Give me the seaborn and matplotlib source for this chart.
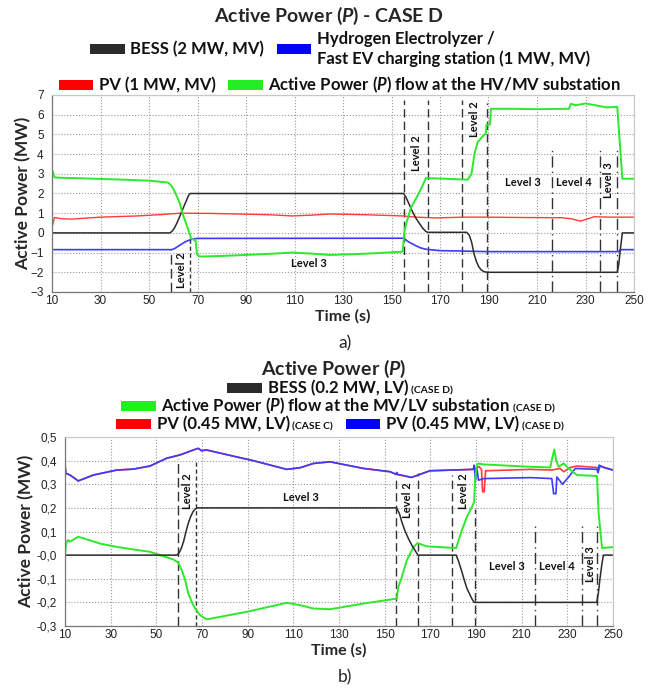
import matplotlib
matplotlib.use('Agg')
import matplotlib.pyplot as plt
import seaborn as sns
from matplotlib.patches import Rectangle
from matplotlib.offsetbox import HPacker, TextArea, DrawingArea, AnchoredOffsetbox
from matplotlib.ticker import MultipleLocator

# ---------- a) CASE D, MV network (MW) ----------
t_bess_a = [10, 58.6, 59.5, 60.5, 61.5, 62.5, 63.5, 64.5, 65.5, 66.3, 67, 155, 156, 157.4, 158.5, 160,
            161.5, 163, 164.2, 165, 181, 182, 183, 184, 185, 186, 187, 188, 189, 190, 243.1, 243.7,
            244.4, 245.2, 250]
p_bess_a = [0, 0, 0.08, 0.25, 0.5, 0.78, 1.08, 1.38, 1.66, 1.9, 2.0, 2.0, 1.8, 1.42, 1.12, 0.76,
            0.48, 0.22, 0.07, 0.03, 0.03, -0.1, -0.45, -1.05, -1.45, -1.72, -1.88, -1.96, -1.99, -2.0,
            -2.0, -1.6, -0.8, 0.0, 0.0]

t_h2_a = [10, 59.3, 60.5, 63, 65, 67.4, 70, 155, 157, 160, 162, 164.2, 170, 190, 243.5, 244.8, 250]
p_h2_a = [-0.85, -0.85, -0.8, -0.6, -0.45, -0.33, -0.28, -0.27, -0.45, -0.65, -0.76, -0.83, -0.9,
          -0.95, -0.95, -0.85, -0.85]

t_pv_a = [10, 10.3, 11, 14, 18, 30, 45, 55, 62.8, 75, 86, 100, 109, 117, 124.4, 140, 154.6, 160,
          168, 180, 189, 205, 220, 224, 228, 233.6, 240, 250]
p_pv_a = [0.7, 0.42, 0.78, 0.72, 0.7, 0.8, 0.86, 0.93, 1.0, 0.99, 0.96, 0.92, 0.86, 0.9, 0.96, 0.92,
          0.86, 0.8, 0.76, 0.8, 0.8, 0.78, 0.77, 0.72, 0.6, 0.82, 0.8, 0.8]

t_grid_a = [10, 10.3, 11, 13, 20, 30, 40, 50, 56, 58, 59.5, 60.6, 61.5, 62.7, 63.8, 65.5, 67.4, 69.2,
            69.8, 71, 80, 90, 100, 109, 117, 124.4, 135, 145, 154.6, 155.3, 156, 158.1, 160.8, 162.8,
            164.2, 170, 181.4, 183, 184.2, 185.5, 187.6, 188.9, 189.2, 190.6, 191, 200, 210, 223.2,
            223.9, 226, 230, 238.8, 243.1, 245.2, 250]
p_grid_a = [2.9, 3.1, 2.82, 2.8, 2.78, 2.74, 2.7, 2.65, 2.58, 2.55, 2.35, 2.09, 1.85, 1.5, 1.0, 0.4,
            -0.28, -0.4, -1.1, -1.2, -1.17, -1.12, -1.06, -1.0, -1.05, -1.12, -1.08, -1.02, -0.95,
            0.06, 0.45, 1.3, 1.9, 2.4, 2.78, 2.76, 2.7, 3.0, 4.0, 4.6, 4.9, 5.05, 5.5, 5.5, 6.3, 6.3,
            6.28, 6.3, 6.55, 6.48, 6.57, 6.37, 6.4, 2.75, 2.75]

# event markers (time, top of the line) and level labels
vl_a_t = [59, 67, 155, 165, 179, 189.5, 216, 236, 243]
vl_a_top = [-0.85, -0.3, 6.75, 6.75, 6.75, 6.6, 4.3, 4.2, 4.2]
lvl_a_text = ['Level 2', 'Level 3', 'Level 2', 'Level 2', 'Level 3', 'Level 4', 'Level 3']
lvl_a_t = [63.4, 116, 160.2, 184.1, 204, 225.3, 239.3]
lvl_a_p = [-1.9, -1.55, 4.05, 5.8, 2.55, 2.55, 2.7]
lvl_a_rot = [90, 0, 90, 90, 0, 0, 90]

# ---------- b) LV network (MW) ----------
t_bess_b = [10, 59, 60, 61, 62, 63, 64, 65, 66, 67, 68, 155.2, 156.5, 157.5, 159, 160.4, 162, 163.3,
            164.6, 181.3, 182.5, 183.8, 185, 186, 187.2, 188.2, 189.2, 242.9, 243.6, 244.3, 245.1,
            245.8, 250]
p_bess_b = [0, 0, 0.01, 0.03, 0.06, 0.1, 0.135, 0.162, 0.183, 0.195, 0.2, 0.2, 0.175, 0.141, 0.1,
            0.07, 0.04, 0.02, 0.0, 0.0, -0.03, -0.07, -0.11, -0.14, -0.165, -0.185, -0.2, -0.2,
            -0.16, -0.1, -0.04, 0.0, 0.0]

t_grid_b = [10, 10.4, 11.4, 12.2, 15.8, 25.3, 32.6, 39.9, 47.2, 51.6, 57.4, 59.6, 61.1, 62.6, 64,
            65.5, 67, 69.1, 72, 89.6, 107.1, 113, 118.8, 126.1, 140.7, 155.3, 156, 157.5, 159.7,
            162.6, 164.4, 168.5, 181.3, 183.8, 186, 188.2, 189.2, 189.6, 190.4, 191.1, 193.3, 213.7,
            222.5, 223.5, 224.3, 225.1, 226.2, 228.4, 230.6, 234.2, 243, 243.7, 245.2, 250]
p_grid_b = [0.0, 0.049, 0.064, 0.057, 0.078, 0.049, 0.035, 0.024, 0.014, 0.0, -0.018, -0.032,
            -0.063, -0.105, -0.162, -0.198, -0.226, -0.254, -0.272, -0.24, -0.202, -0.212, -0.226,
            -0.229, -0.205, -0.184, -0.135, -0.093, -0.022, 0.034, 0.051, 0.037, 0.03, 0.105, 0.161,
            0.204, 0.225, 0.317, 0.381, 0.388, 0.384, 0.374, 0.371, 0.416, 0.447, 0.402, 0.374,
            0.388, 0.367, 0.339, 0.335, 0.177, 0.03, 0.034]

# PV CASE C: same as CASE D until ~190 s (hidden under it in the reference)
t_pvc_b = [10, 10.4, 12.2, 15.8, 22.4, 32.6, 39.9, 47.2, 54.5, 60.3, 66.2, 68.4, 69.8, 72, 83.7,
           92.4, 107.1, 113, 118.8, 126.1, 140.7, 152.4, 155, 161.8, 169.8, 188.8, 191.4, 192.4,
           192.9, 193.6, 194.2, 213.7, 223.2, 226.8, 228.4, 231.3, 234.2, 243, 243.7, 244.4, 250]
p_pvc_b = [0.381, 0.346, 0.339, 0.314, 0.339, 0.36, 0.364, 0.377, 0.41, 0.424, 0.445, 0.452, 0.442,
           0.445, 0.419, 0.4, 0.363, 0.37, 0.388, 0.395, 0.367, 0.353, 0.342, 0.329, 0.357, 0.363,
           0.374, 0.363, 0.268, 0.268, 0.357, 0.363, 0.36, 0.367, 0.353, 0.371, 0.377, 0.371, 0.357,
           0.377, 0.36]

t_pvd_b = [10, 10.4, 12.2, 15.8, 22.4, 32.6, 39.9, 47.2, 54.5, 60.3, 66.2, 68.4, 69.8, 72, 83.7,
           92.4, 107.1, 113, 118.8, 126.1, 140.7, 152.4, 155, 155.3, 155.6, 161.8, 169.8, 188.8,
           189.2, 189.8, 190.3, 191.1, 193.3, 213.7, 223.2, 224, 225, 225.4, 227.9, 230.6, 233.5,
           243, 243.4, 243.9, 245.9, 250]
p_pvd_b = [0.381, 0.346, 0.339, 0.314, 0.339, 0.36, 0.364, 0.377, 0.41, 0.424, 0.445, 0.452, 0.442,
           0.445, 0.419, 0.4, 0.363, 0.37, 0.388, 0.395, 0.367, 0.353, 0.342, 0.35, 0.342, 0.329,
           0.357, 0.363, 0.381, 0.317, 0.374, 0.317, 0.324, 0.328, 0.324, 0.26, 0.26, 0.331, 0.3,
           0.331, 0.367, 0.363, 0.349, 0.381, 0.371, 0.36]

vl_b_t = [59.3, 67.2, 155, 164.8, 179.3, 189.4, 215.8, 236.4, 243]
vl_b_top = [0.405, 0.405, 0.318, 0.346, 0.339, 0.197, 0.126, 0.126, 0.126]
lvl_b_text = ['Level 2', 'Level 3', 'Level 2', 'Level 2', 'Level 3', 'Level 4', 'Level 3']
lvl_b_t = [63.6, 113.4, 160.2, 184.4, 203.6, 225.5, 240.1]
lvl_b_p = [0.27, 0.246, 0.233, 0.273, -0.05, -0.05, -0.038]
lvl_b_rot = [90, 0, 90, 90, 0, 0, 90]

x_ticks = list(range(10, 251, 20))
y_ticks_a = list(range(-3, 8))
y_ticks_b = [-0.3, -0.2, -0.1, 0.0, 0.1, 0.2, 0.3, 0.4, 0.5]
y_labels_b = ['-0,3', '-0,2', '-0,1', '-0,0', '0,1', '0,2', '0,3', '0,4', '0,5']

vl_styles = [(0, (7, 3)), (0, (3, 2)), (0, (6, 3)), (0, (6, 3)), (0, (6, 3)), (0, (6, 3)),
             (0, (8, 3, 1, 3)), (0, (8, 3, 1, 3)), (0, (8, 3, 1, 3))]

# ---------- style ----------
sns.set_style('white')
plt.rcParams['font.family'] = ['Lato', 'DejaVu Sans']
plt.rcParams['mathtext.fontset'] = 'custom'
plt.rcParams['mathtext.it'] = 'Lato:italic:bold'
plt.rcParams['mathtext.rm'] = 'Lato:bold'

C_BLACK, C_BLUE, C_RED, C_GREEN = '#2b2b2b', '#3b3bff', '#ff3b3b', '#2ee82e'

fig = plt.figure(figsize=(6.58, 6.88), dpi=100)
W, H = 658, 688


def px_axes(left, top, right, bottom):
    return fig.add_axes([left / W, 1 - bottom / H, (right - left) / W, (bottom - top) / H])


def style(ax, ylim, yticks, minor_y):
    ax.set_xlim(10, 250)
    ax.set_ylim(*ylim)
    ax.set_xticks(x_ticks)
    ax.set_yticks(yticks)
    ax.xaxis.set_minor_locator(MultipleLocator(5))
    ax.yaxis.set_minor_locator(MultipleLocator(minor_y))
    ax.grid(True, which='major', ls=':', color='#9a9a9a', lw=0.8)
    ax.tick_params(axis='x', which='both', direction='in', length=4, width=0.7, color='#777777')
    ax.tick_params(axis='y', which='major', direction='out', length=4, width=0.7, color='#777777')
    ax.tick_params(axis='y', which='minor', direction='in', length=4, width=0.7, color='#777777')
    ax.tick_params(axis='both', which='major', labelsize=8.5, labelcolor='#222222',
                   labelfontfamily='Liberation Sans', pad=2)
    for side in ['left', 'bottom']:
        ax.spines[side].set_color('#777777')
        ax.spines[side].set_linewidth(0.9)
    for side in ['top', 'right']:
        ax.spines[side].set_color('#c8c8c8')
        ax.spines[side].set_linewidth(0.9)
    ax.set_xlabel('Time (s)', fontsize=11.5, fontweight='bold', labelpad=2)


def markers(ax, ts, tops, ymin, texts, lt, lp, rot, fs):
    for t, top, ls in zip(ts, tops, vl_styles):
        ax.vlines(t, ymin, top, colors='#333333', linestyles=[ls], lw=1.0, zorder=1)
    for s, t, p, r in zip(texts, lt, lp, rot):
        ax.text(t, p, s, rotation=r, ha='center', va='center', fontsize=fs, fontweight='bold',
                color='#111111')


# ---------- a) ----------
ax1 = px_axes(52, 95, 634, 292)
sns.lineplot(x=t_pv_a, y=p_pv_a, color=C_RED, lw=1.0, ax=ax1, estimator=None)
sns.lineplot(x=t_h2_a, y=p_h2_a, color=C_BLUE, lw=1.2, ax=ax1, estimator=None)
sns.lineplot(x=t_bess_a, y=p_bess_a, color=C_BLACK, lw=1.1, ax=ax1, estimator=None)
sns.lineplot(x=t_grid_a, y=p_grid_a, color=C_GREEN, lw=1.4, ax=ax1, estimator=None)
style(ax1, (-3, 7), y_ticks_a, 0.5)
markers(ax1, vl_a_t, vl_a_top, -3, lvl_a_text, lvl_a_t, lvl_a_p, lvl_a_rot, 8)
ax1.set_ylabel('Active Power (MW)', fontsize=12.5, fontweight='bold', va='center')
ax1.yaxis.set_label_coords(-0.049, 0.5)

# ---------- b) ----------
ax2 = px_axes(65, 437, 613, 626)
sns.lineplot(x=t_pvc_b, y=p_pvc_b, color=C_RED, lw=1.2, ax=ax2, estimator=None)
sns.lineplot(x=t_pvd_b, y=p_pvd_b, color=C_BLUE, lw=1.2, ax=ax2, estimator=None)
sns.lineplot(x=t_grid_b, y=p_grid_b, color=C_GREEN, lw=1.4, ax=ax2, estimator=None)
sns.lineplot(x=t_bess_b, y=p_bess_b, color=C_BLACK, lw=1.1, ax=ax2, estimator=None)
style(ax2, (-0.3, 0.5), y_ticks_b, 0.05)
ax2.set_yticklabels(y_labels_b)
markers(ax2, vl_b_t, vl_b_top, -0.3, lvl_b_text, lvl_b_t, lvl_b_p, lvl_b_rot, 8)
ax2.set_ylabel('Active Power (MW)', fontsize=12.5, fontweight='bold', va='center')
ax2.yaxis.set_label_coords(-0.071, 0.5)


# ---------- titles and legends ----------
def swatch(color):
    da = DrawingArea(25, 7.5)
    da.add_artist(Rectangle((0, 0), 25, 7.5, fc=color, ec='none'))
    return da


def label(main, small=None):
    area = TextArea(main, textprops=dict(fontsize=12, fontweight='bold', color='#111111'))
    if small is None:
        return area
    tag = TextArea(small, textprops=dict(fontsize=7.5, fontweight='bold', color='#111111'))
    return HPacker(children=[area, tag], align='baseline', pad=0, sep=2)


def legend_row(items, xc, yc):
    kids = []
    for color, main, small in items:
        kids.append(HPacker(children=[swatch(color), label(main, small)], align='center',
                            pad=0, sep=4))
    row = HPacker(children=kids, align='center', pad=0, sep=9)
    box = AnchoredOffsetbox(loc='center', child=row, frameon=False, pad=0, borderpad=0,
                            bbox_to_anchor=(xc / W, 1 - yc / H), bbox_transform=fig.transFigure)
    fig.add_artist(box)


fig.text(329 / W, 1 - 16 / H, r'Active Power ($\mathit{P}$) - CASE D', ha='center', va='center',
         fontsize=14, fontweight='bold')
legend_row([(C_BLACK, 'BESS (2 MW, MV)', None),
            ('#0000ff', 'Hydrogen Electrolyzer /\nFast EV charging station (1 MW, MV)', None)], 340, 49)
legend_row([('#ff0000', 'PV (1 MW, MV)', None),
            ('#22ee22', r'Active Power ($\mathit{P}$) flow at the HV/MV substation', None)], 340, 85)
fig.text(345 / W, 1 - 343 / H, 'a)', ha='center', va='center', fontsize=12.5)

fig.text(334 / W, 1 - 369 / H, r'Active Power ($\mathit{P}$)', ha='center', va='center',
         fontsize=14, fontweight='bold')
legend_row([(C_BLACK, 'BESS (0.2 MW, LV)', '(CASE D)')], 340, 388)
legend_row([('#22ee22', r'Active Power ($\mathit{P}$) flow at the MV/LV substation', '(CASE D)')],
           338, 406)
legend_row([('#ff0000', 'PV (0.45 MW, LV)', '(CASE C)'),
            ('#0000ff', 'PV (0.45 MW, LV)', '(CASE D)')], 340, 424)
fig.text(345 / W, 1 - 677 / H, 'b)', ha='center', va='center', fontsize=12.5)

fig.savefig('out.png', dpi=100)
